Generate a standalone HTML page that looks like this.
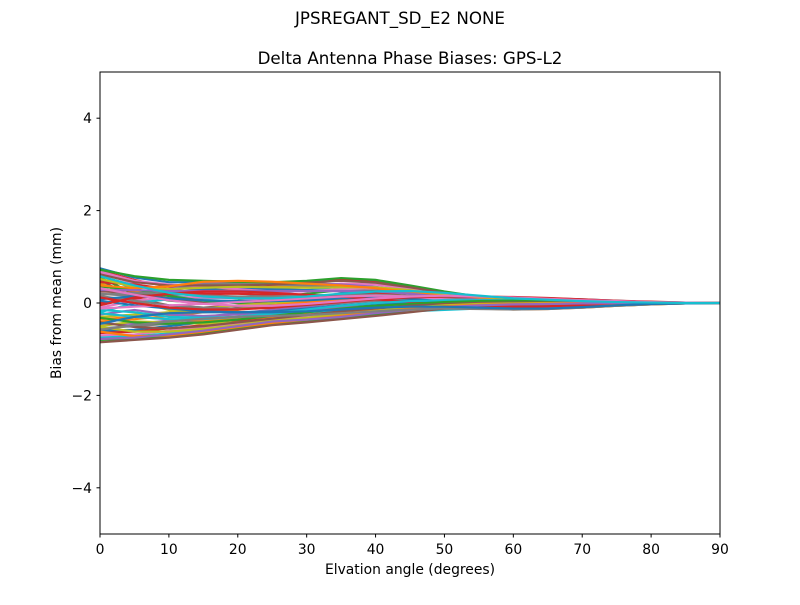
<!DOCTYPE html>
<html><head><meta charset="utf-8"><style>
body{margin:0;background:#fff;font-family:"Liberation Sans","DejaVu Sans",sans-serif}
svg text{font-family:"DejaVu Sans","Liberation Sans",sans-serif}
</style></head><body>
<svg id="chart" width="800" height="600">
<rect width="800" height="600" fill="#fff"/>
<text x="400" y="24" text-anchor="middle" font-size="16.7">JPSREGANT_SD_E2 NONE</text>
<text x="410" y="64" text-anchor="middle" font-size="16.7">Delta Antenna Phase Biases: GPS-L2</text>
<defs><clipPath id="clip"><rect x="100" y="72" width="620" height="462"/></clipPath></defs>
<g id="lines" clip-path="url(#clip)"></g>
<g id="axes"></g>
<rect x="100" y="72" width="620" height="462" fill="none" stroke="#000" stroke-width="1"/>
<text x="410" y="574" text-anchor="middle" font-size="13.9">Elvation angle (degrees)</text>
<text transform="translate(61,303) rotate(-90)" text-anchor="middle" font-size="13.9">Bias from mean (mm)</text>
</svg>
<script>
const elevations=[0,5,10,15,20,25,30,35,40,45,50,55,60,65,70,75,80,85,90];
const xTicks=[0,10,20,30,40,50,60,70,80,90];
const yTicks=[-4,-2,0,2,4];
const s01=[0.75,0.55,0.45,0.45,0.42,0.4,0.45,0.52,0.48,0.35,0.22,0.12,0.08,0.05,0.03,0.02,0.01,0.0,0];
const s02=[0.7,0.5,0.35,0.3,0.32,0.36,0.42,0.5,0.45,0.33,0.2,0.1,0.06,0.04,0.03,0.02,0.01,0.0,0];
const s03=[0.65,0.42,0.25,0.2,0.22,0.28,0.35,0.42,0.4,0.3,0.18,0.08,0.05,0.04,0.03,0.02,0.01,0.0,0];
const s04=[0.6,0.3,0.15,0.1,0.12,0.2,0.28,0.35,0.33,0.25,0.14,0.06,0.03,0.02,0.02,0.01,0.0,0.0,0];
const s05=[0.55,0.2,0.05,0.0,0.05,0.12,0.2,0.28,0.28,0.2,0.1,0.03,0.0,0.0,0.01,0.01,0.0,0.0,0];
const s06=[0.5,0.1,-0.05,-0.1,-0.05,0.05,0.12,0.2,0.22,0.15,0.06,0.0,-0.03,-0.03,-0.02,0.0,0.0,0.0,0];
const s07=[0.45,0.05,-0.15,-0.2,-0.15,-0.05,0.05,0.12,0.15,0.1,0.02,-0.04,-0.06,-0.06,-0.04,-0.02,-0.01,0.0,0];
const s08=[0.4,0.25,0.2,0.25,0.3,0.35,0.38,0.35,0.3,0.22,0.12,0.05,0.02,0.01,0.0,0.0,0.0,0.0,0];
const s09=[0.3,0.2,0.3,0.42,0.45,0.44,0.43,0.4,0.35,0.25,0.15,0.08,0.04,0.02,0.01,0.0,0.0,0.0,0];
const s10=[0.2,0.15,0.28,0.4,0.42,0.4,0.38,0.35,0.3,0.2,0.1,0.05,0.03,0.02,0.01,0.0,0.0,0.0,0];
const s11=[0.1,0.12,0.22,0.3,0.32,0.3,0.28,0.25,0.2,0.12,0.05,0.02,0.02,0.02,0.01,0.0,0.0,0.0,0];
const s12=[0.0,0.1,0.18,0.2,0.2,0.18,0.15,0.1,0.05,0.0,-0.03,-0.05,-0.04,-0.02,-0.01,0.0,0.0,0.0,0];
const s13=[-0.1,0.05,0.12,0.12,0.1,0.05,0.0,-0.05,-0.1,-0.12,-0.12,-0.1,-0.08,-0.06,-0.04,-0.02,-0.01,0.0,0];
const s14=[-0.2,0.0,0.08,0.05,0.0,-0.05,-0.1,-0.15,-0.18,-0.18,-0.15,-0.12,-0.1,-0.08,-0.06,-0.04,-0.02,-0.01,0];
const s15=[0.35,0.3,0.15,0.05,0.0,-0.05,-0.1,-0.1,-0.05,0.0,0.02,0.03,0.03,0.02,0.01,0.0,0.0,0.0,0];
const s16=[0.25,0.22,0.1,0.0,-0.08,-0.12,-0.15,-0.15,-0.1,-0.05,0.0,0.03,0.05,0.05,0.03,0.02,0.01,0.0,0];
const s17=[-0.3,-0.25,-0.2,-0.12,-0.05,0.0,0.05,0.08,0.1,0.08,0.05,0.03,0.02,0.01,0.0,0.0,0.0,0.0,0];
const s18=[-0.4,-0.35,-0.28,-0.2,-0.12,-0.05,0.02,0.08,0.12,0.12,0.08,0.04,0.02,0.01,0.0,0.0,0.0,0.0,0];
const s19=[-0.45,-0.45,-0.38,-0.3,-0.22,-0.15,-0.08,0.0,0.05,0.08,0.06,0.04,0.02,0.01,0.0,0.0,0.0,0.0,0];
const s20=[-0.55,-0.5,-0.45,-0.38,-0.3,-0.22,-0.15,-0.08,0.0,0.03,0.04,0.03,0.02,0.01,0.0,0.0,0.0,0.0,0];
const s21=[-0.6,-0.58,-0.5,-0.42,-0.35,-0.28,-0.2,-0.12,-0.05,0.0,0.02,0.02,0.01,0.0,0.0,0.0,0.0,0.0,0];
const s22=[-0.65,-0.62,-0.55,-0.48,-0.4,-0.32,-0.25,-0.18,-0.1,-0.05,-0.02,0.0,0.0,0.0,0.0,0.0,0.0,0.0,0];
const s23=[-0.7,-0.68,-0.6,-0.52,-0.45,-0.38,-0.3,-0.22,-0.15,-0.08,-0.04,-0.02,-0.01,0.0,0.0,0.0,0.0,0.0,0];
const s24=[-0.75,-0.72,-0.66,-0.58,-0.5,-0.42,-0.35,-0.28,-0.2,-0.12,-0.06,-0.03,-0.02,-0.01,0.0,0.0,0.0,0.0,0];
const s25=[-0.8,-0.78,-0.72,-0.65,-0.55,-0.45,-0.4,-0.32,-0.25,-0.18,-0.1,-0.06,-0.04,-0.02,-0.01,0.0,0.0,0.0,0];
const s26=[-0.85,-0.8,-0.75,-0.68,-0.58,-0.48,-0.42,-0.35,-0.28,-0.2,-0.12,-0.08,-0.05,-0.03,-0.02,-0.01,0.0,0.0,0];
const s27=[-0.5,-0.4,-0.42,-0.45,-0.42,-0.38,-0.32,-0.25,-0.2,-0.15,-0.1,-0.1,-0.12,-0.12,-0.1,-0.06,-0.03,-0.01,0];
const s28=[-0.35,-0.3,-0.35,-0.38,-0.35,-0.3,-0.25,-0.2,-0.15,-0.12,-0.1,-0.12,-0.14,-0.13,-0.1,-0.06,-0.03,-0.01,0];
const s29=[-0.25,-0.15,-0.25,-0.28,-0.25,-0.2,-0.15,-0.1,-0.08,-0.05,-0.05,-0.08,-0.1,-0.1,-0.08,-0.05,-0.02,-0.01,0];
const s30=[0.15,0.05,-0.05,-0.1,-0.12,-0.1,-0.05,0.0,0.05,0.08,0.1,0.1,0.1,0.08,0.06,0.04,0.02,0.01,0];
const s31=[0.05,-0.05,-0.12,-0.18,-0.2,-0.18,-0.12,-0.05,0.0,0.05,0.08,0.1,0.12,0.1,0.08,0.05,0.02,0.01,0];
const s32=[0.45,0.4,0.3,0.2,0.12,0.08,0.1,0.15,0.2,0.22,0.2,0.15,0.1,0.06,0.04,0.02,0.01,0.0,0];
const s33=[0.68,0.48,0.4,0.36,0.3,0.25,0.25,0.3,0.32,0.28,0.18,0.1,0.06,0.04,0.03,0.02,0.01,0.0,0];
const s34=[-0.15,-0.2,-0.3,-0.32,-0.3,-0.25,-0.2,-0.15,-0.1,-0.05,0.0,0.0,-0.02,-0.03,-0.03,-0.02,-0.01,0.0,0];
const s35=[0.72,0.58,0.5,0.48,0.46,0.45,0.48,0.54,0.5,0.38,0.25,0.14,0.09,0.06,0.04,0.02,0.01,0.0,0];
const s36=[0.62,0.45,0.38,0.38,0.38,0.4,0.44,0.48,0.44,0.34,0.22,0.12,0.07,0.05,0.03,0.02,0.01,0.0,0];
const s37=[0.52,0.35,0.3,0.33,0.35,0.34,0.33,0.34,0.34,0.28,0.18,0.1,0.06,0.04,0.03,0.02,0.01,0.0,0];
const s38=[0.38,0.32,0.36,0.46,0.48,0.46,0.42,0.38,0.32,0.24,0.15,0.08,0.05,0.03,0.02,0.01,0.0,0.0,0];
const s39=[0.28,0.28,0.26,0.26,0.26,0.26,0.26,0.26,0.25,0.2,0.13,0.07,0.04,0.03,0.02,0.01,0.0,0.0,0];
const s40=[0.18,0.22,0.2,0.16,0.14,0.14,0.16,0.18,0.18,0.15,0.1,0.06,0.04,0.03,0.02,0.01,0.0,0.0,0];
const s41=[0.08,0.15,0.1,0.06,0.04,0.04,0.06,0.1,0.12,0.1,0.06,0.03,0.01,0.0,0.0,0.0,0.0,0.0,0];
const s42=[-0.05,0.12,0.2,0.25,0.25,0.22,0.18,0.14,0.08,0.02,-0.04,-0.07,-0.08,-0.07,-0.05,-0.03,-0.01,0.0,0];
const s43=[-0.12,-0.08,-0.05,-0.02,0.02,0.06,0.1,0.14,0.16,0.14,0.08,0.03,0.0,-0.01,-0.01,0.0,0.0,0.0,0];
const s44=[-0.22,-0.3,-0.35,-0.35,-0.3,-0.22,-0.14,-0.06,0.0,0.04,0.06,0.06,0.06,0.05,0.03,0.02,0.01,0.0,0];
const s45=[-0.32,-0.42,-0.45,-0.42,-0.36,-0.28,-0.2,-0.12,-0.06,-0.02,0.02,0.04,0.05,0.04,0.03,0.02,0.01,0.0,0];
const s46=[-0.42,-0.52,-0.55,-0.5,-0.42,-0.34,-0.26,-0.18,-0.12,-0.06,-0.02,0.0,0.01,0.01,0.01,0.0,0.0,0.0,0];
const s47=[-0.52,-0.62,-0.62,-0.56,-0.48,-0.4,-0.32,-0.24,-0.17,-0.1,-0.05,-0.02,-0.01,0.0,0.0,0.0,0.0,0.0,0];
const s48=[-0.62,-0.72,-0.7,-0.62,-0.52,-0.43,-0.36,-0.28,-0.2,-0.12,-0.07,-0.04,-0.02,-0.01,0.0,0.0,0.0,0.0,0];
const s49=[-0.78,-0.75,-0.68,-0.6,-0.5,-0.4,-0.36,-0.3,-0.22,-0.15,-0.09,-0.05,-0.03,-0.02,-0.01,0.0,0.0,0.0,0];
const s50=[-0.58,-0.48,-0.4,-0.34,-0.3,-0.28,-0.26,-0.22,-0.18,-0.14,-0.12,-0.13,-0.14,-0.13,-0.1,-0.06,-0.03,-0.01,0];
const s51=[-0.45,-0.3,-0.22,-0.2,-0.2,-0.2,-0.18,-0.14,-0.1,-0.08,-0.08,-0.1,-0.12,-0.12,-0.09,-0.05,-0.02,-0.01,0];
const s52=[0.12,0.0,-0.1,-0.14,-0.14,-0.1,-0.04,0.02,0.08,0.12,0.14,0.14,0.13,0.11,0.08,0.05,0.03,0.01,0];
const s53=[0.32,0.18,0.06,-0.02,-0.06,-0.06,-0.02,0.04,0.1,0.14,0.16,0.14,0.12,0.09,0.06,0.04,0.02,0.01,0];
const s54=[0.58,0.38,0.22,0.14,0.1,0.1,0.14,0.2,0.25,0.26,0.22,0.16,0.1,0.07,0.04,0.02,0.01,0.0,0];
const series=[s01,s02,s03,s04,s05,s06,s07,s08,s09,s10,s11,s12,s13,s14,s15,s16,s17,s18,s19,s20,s21,s22,s23,s24,s25,s26,s27,s28,s29,s30,s31,s32,s33,s34,s35,s36,s37,s38,s39,s40,s41,s42,s43,s44,s45,s46,s47,s48,s49,s50,s51,s52,s53,s54];
const colors=["#1f77b4","#ff7f0e","#2ca02c","#d62728","#9467bd","#8c564b","#e377c2","#7f7f7f","#bcbd22","#17becf"];
const NS="http://www.w3.org/2000/svg";
const X=v=>100+v/90*620;
const Y=v=>303-v*46.2;
const lines=document.getElementById('lines');
series.forEach((s,i)=>{
  const p=document.createElementNS(NS,'polyline');
  p.setAttribute('points',s.map((v,j)=>X(elevations[j])+','+Y(v)).join(' '));
  p.setAttribute('fill','none');p.setAttribute('stroke',colors[(i*3)%10]);p.setAttribute('stroke-width','2.2');
  
  
  lines.appendChild(p);
});
const axes=document.getElementById('axes');
function add(tag,attrs,txt){const e=document.createElementNS(NS,tag);for(const k in attrs)e.setAttribute(k,attrs[k]);if(txt!==undefined)e.textContent=txt;axes.appendChild(e);return e;}
xTicks.forEach(t=>{
  const l=add('line',{x1:X(t),x2:X(t),y1:534,y2:537.5,stroke:'#000'});
  
  
  const tx=add('text',{x:X(t),y:554,'text-anchor':'middle','font-size':13.9},String(t));
  
  
});
yTicks.forEach(t=>{
  const l=add('line',{x1:96.5,x2:100,y1:Y(t),y2:Y(t),stroke:'#000'});
  
  
  const tx=add('text',{x:92,y:Y(t)+5,'text-anchor':'end','font-size':13.9},t<0?'\u2212'+Math.abs(t):String(t));
  
  
});
</script>
</body></html>
